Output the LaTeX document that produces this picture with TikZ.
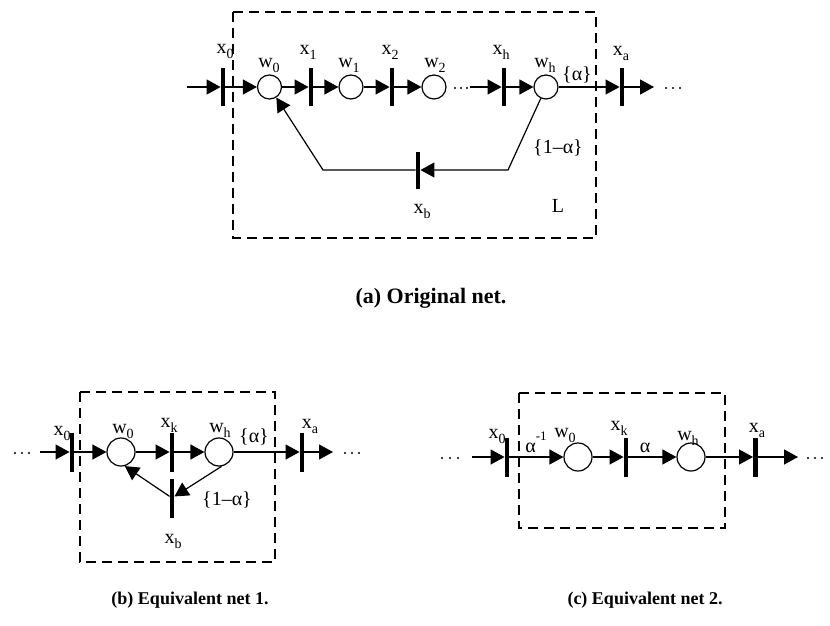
\documentclass[tikz,border=0pt]{standalone}
\usepackage{fontspec}
\setmainfont{Liberation Serif}
\usetikzlibrary{arrows.meta}
\newcommand{\lsub}[1]{\raisebox{-0.25em}{\fontsize{14}{14}\selectfont #1}}
\newcommand{\lsup}[1]{\raisebox{0.6em}{\fontsize{13}{13}\selectfont #1}}
\begin{document}
\begin{tikzpicture}[x=1pt,y=-1pt,
  bar/.style={rectangle, fill=black, draw=none, minimum width=4.5pt, minimum height=37pt, inner sep=0pt},
  bbar/.style={bar, minimum height=39pt},
  plc/.style={circle, draw, line width=1.2pt, minimum size=24pt, inner sep=0pt},
  bplc/.style={plc, minimum size=28pt},
  arc/.style={line width=1.2pt, -{Triangle[length=14pt,width=15pt]}},
  lbl/.style={font=\fontsize{20}{20}\selectfont, inner sep=0pt, anchor=base},
  clbl/.style={font=\fontsize{20}{20}\selectfont, inner sep=0pt},
  captxt/.style={font=\fontsize{22}{22}\selectfont\bfseries, inner sep=0pt},
  captxtb/.style={font=\fontsize{18}{18}\selectfont\bfseries, inner sep=0pt},
  dbox/.style={line width=2pt, dash pattern=on 10pt off 6pt},
  dotp/.style={circle, fill=black, inner sep=0pt, minimum size=2.4pt}
]
\useasboundingbox (0,0) rectangle (830,626);

% ---------------- (a) ----------------
\draw[dbox] (233,12) rectangle (596,238);
\node[bar] (a0) at (223,87) {};
\node[plc] (aw0) at (269.5,87) {};
\node[bar] (a1) at (311,87) {};
\node[plc] (aw1) at (351,87) {};
\node[bar] (a2) at (392,87) {};
\node[plc] (aw2) at (434,87) {};
\node[bar] (ah) at (504,87) {};
\node[plc] (awh) at (546,87) {};
\node[bar] (aa) at (622,87) {};
\node[bar] (ab) at (418,170) {};
\coordinate (ain) at (187,87);
\coordinate (aout) at (654,87);
\coordinate (ahs) at (470,87);
\coordinate (afr) at (508,170);
\coordinate (afl) at (323,170);
\node[dotp] (ad1) at (455,88) {};
\node[dotp] (ad2) at (461,88) {};
\node[dotp] (ad3) at (467,88) {};
\node[dotp] (ae1) at (666,88) {};
\node[dotp] (ae2) at (673,88) {};
\node[dotp] (ae3) at (680,88) {};

\draw[arc] (ain) -- (a0);
\draw[arc] (a0) -- (aw0);
\draw[arc] (aw0) -- (a1);
\draw[arc] (a1) -- (aw1);
\draw[arc] (aw1) -- (a2);
\draw[arc] (a2) -- (aw2);
\draw[arc] (ahs) -- (ah);
\draw[arc] (ah) -- (awh);
\draw[arc] (awh) -- (aa);
\draw[arc] (aa) -- (aout);
\draw[arc] (awh) -- (afr) -- (ab);
\draw[arc] (ab) -- (afl) -- (aw0);

\node[lbl] (lx0) at (225,54) {x\lsub{0}};
\node[lbl] (lw0) at (269,68) {w\lsub{0}};
\node[lbl] (lx1) at (308,55) {x\lsub{1}};
\node[lbl] (lw1) at (349,68) {w\lsub{1}};
\node[lbl] (lx2) at (390,55) {x\lsub{2}};
\node[lbl] (lw2) at (435,68) {w\lsub{2}};
\node[lbl] (lxh) at (501,55) {x\lsub{h}};
\node[lbl] (lwh) at (545,68) {w\lsub{h}};
\node[clbl] (lal) at (577,75) {\{α\}};
\node[lbl] (lxa) at (621,56) {x\lsub{a}};
\node[clbl] (l1a) at (558,148) {\{1–α\}};
\node[lbl] (lxb) at (422,213) {x\lsub{b}};
\node[lbl] (lL) at (558,212) {L};
\node[captxt] (capa) at (431,298) {(a) Original net.};

% ---------------- (b) ----------------
\draw[dbox] (80,392) rectangle (275,562);
\node[bbar] (b0) at (72,452) {};
\node[bplc] (bw0) at (121,452) {};
\node[bbar] (bk) at (172,452) {};
\node[bplc] (bwh) at (219,452) {};
\node[bbar] (ba) at (302,452) {};
\node[bbar] (bb) at (172,498) {};
\coordinate (bin) at (40,452);
\coordinate (bout) at (333,452);
\node[dotp] (bd1) at (15,453) {};
\node[dotp] (bd2) at (22,453) {};
\node[dotp] (bd3) at (29,453) {};
\node[dotp] (be1) at (345,453) {};
\node[dotp] (be2) at (352,453) {};
\node[dotp] (be3) at (359,453) {};

\draw[arc] (bin) -- (b0);
\draw[arc] (b0) -- (bw0);
\draw[arc] (bw0) -- (bk);
\draw[arc] (bk) -- (bwh);
\draw[arc] (bwh) -- (ba);
\draw[arc] (ba) -- (bout);
\draw[arc] (bwh.-80) -- (bb);
\draw[arc] (bb) -- (bw0.-75);

\node[lbl] (lbx0) at (62,435) {x\lsub{0}};
\node[lbl] (lbw0) at (123,433) {w\lsub{0}};
\node[lbl] (lbxk) at (169,427) {x\lsub{k}};
\node[lbl] (lbwh) at (220,432) {w\lsub{h}};
\node[clbl] (lbal) at (254,437) {\{α\}};
\node[lbl] (lbxa) at (310,428) {x\lsub{a}};
\node[clbl] (lb1a) at (227,500) {\{1–α\}};
\node[lbl] (lbxb) at (173,543) {x\lsub{b}};
\node[captxtb] (capb) at (190,600) {(b) Equivalent net 1.};

% ---------------- (c) ----------------
\draw[dbox] (519,393) rectangle (725,528);
\node[bbar] (c0) at (507,457) {};
\node[bplc] (cw0) at (578,457) {};
\node[bbar] (ck) at (626,457) {};
\node[bplc] (cwh) at (691,457) {};
\node[bbar] (ca) at (755.5,457) {};
\coordinate (cin) at (472,457);
\coordinate (cout) at (798,457);
\node[dotp] (cd1) at (442,458) {};
\node[dotp] (cd2) at (450,458) {};
\node[dotp] (cd3) at (458,458) {};
\node[dotp] (ce1) at (808,458) {};
\node[dotp] (ce2) at (815,458) {};
\node[dotp] (ce3) at (822,458) {};

\draw[arc] (cin) -- (c0);
\draw[arc] (c0) -- (cw0);
\draw[arc] (cw0) -- (ck);
\draw[arc] (ck) -- (cwh);
\draw[arc] (cwh) -- (ca);
\draw[arc] (ca) -- (cout);

\node[lbl] (lcx0) at (497,438) {x\lsub{0}};
\node[lbl] (lcam) at (536,452) {α\lsup{-1}};
\node[lbl] (lcw0) at (565,437) {w\lsub{0}};
\node[lbl] (lcxk) at (619,430) {x\lsub{k}};
\node[lbl] (lcal) at (645,452) {α};
\node[lbl] (lcwh) at (688,440) {w\lsub{h}};
\node[lbl] (lcxa) at (757,432) {x\lsub{a}};
\node[captxtb] (capc) at (645,600) {(c) Equivalent net 2.};
\end{tikzpicture}
\end{document}
